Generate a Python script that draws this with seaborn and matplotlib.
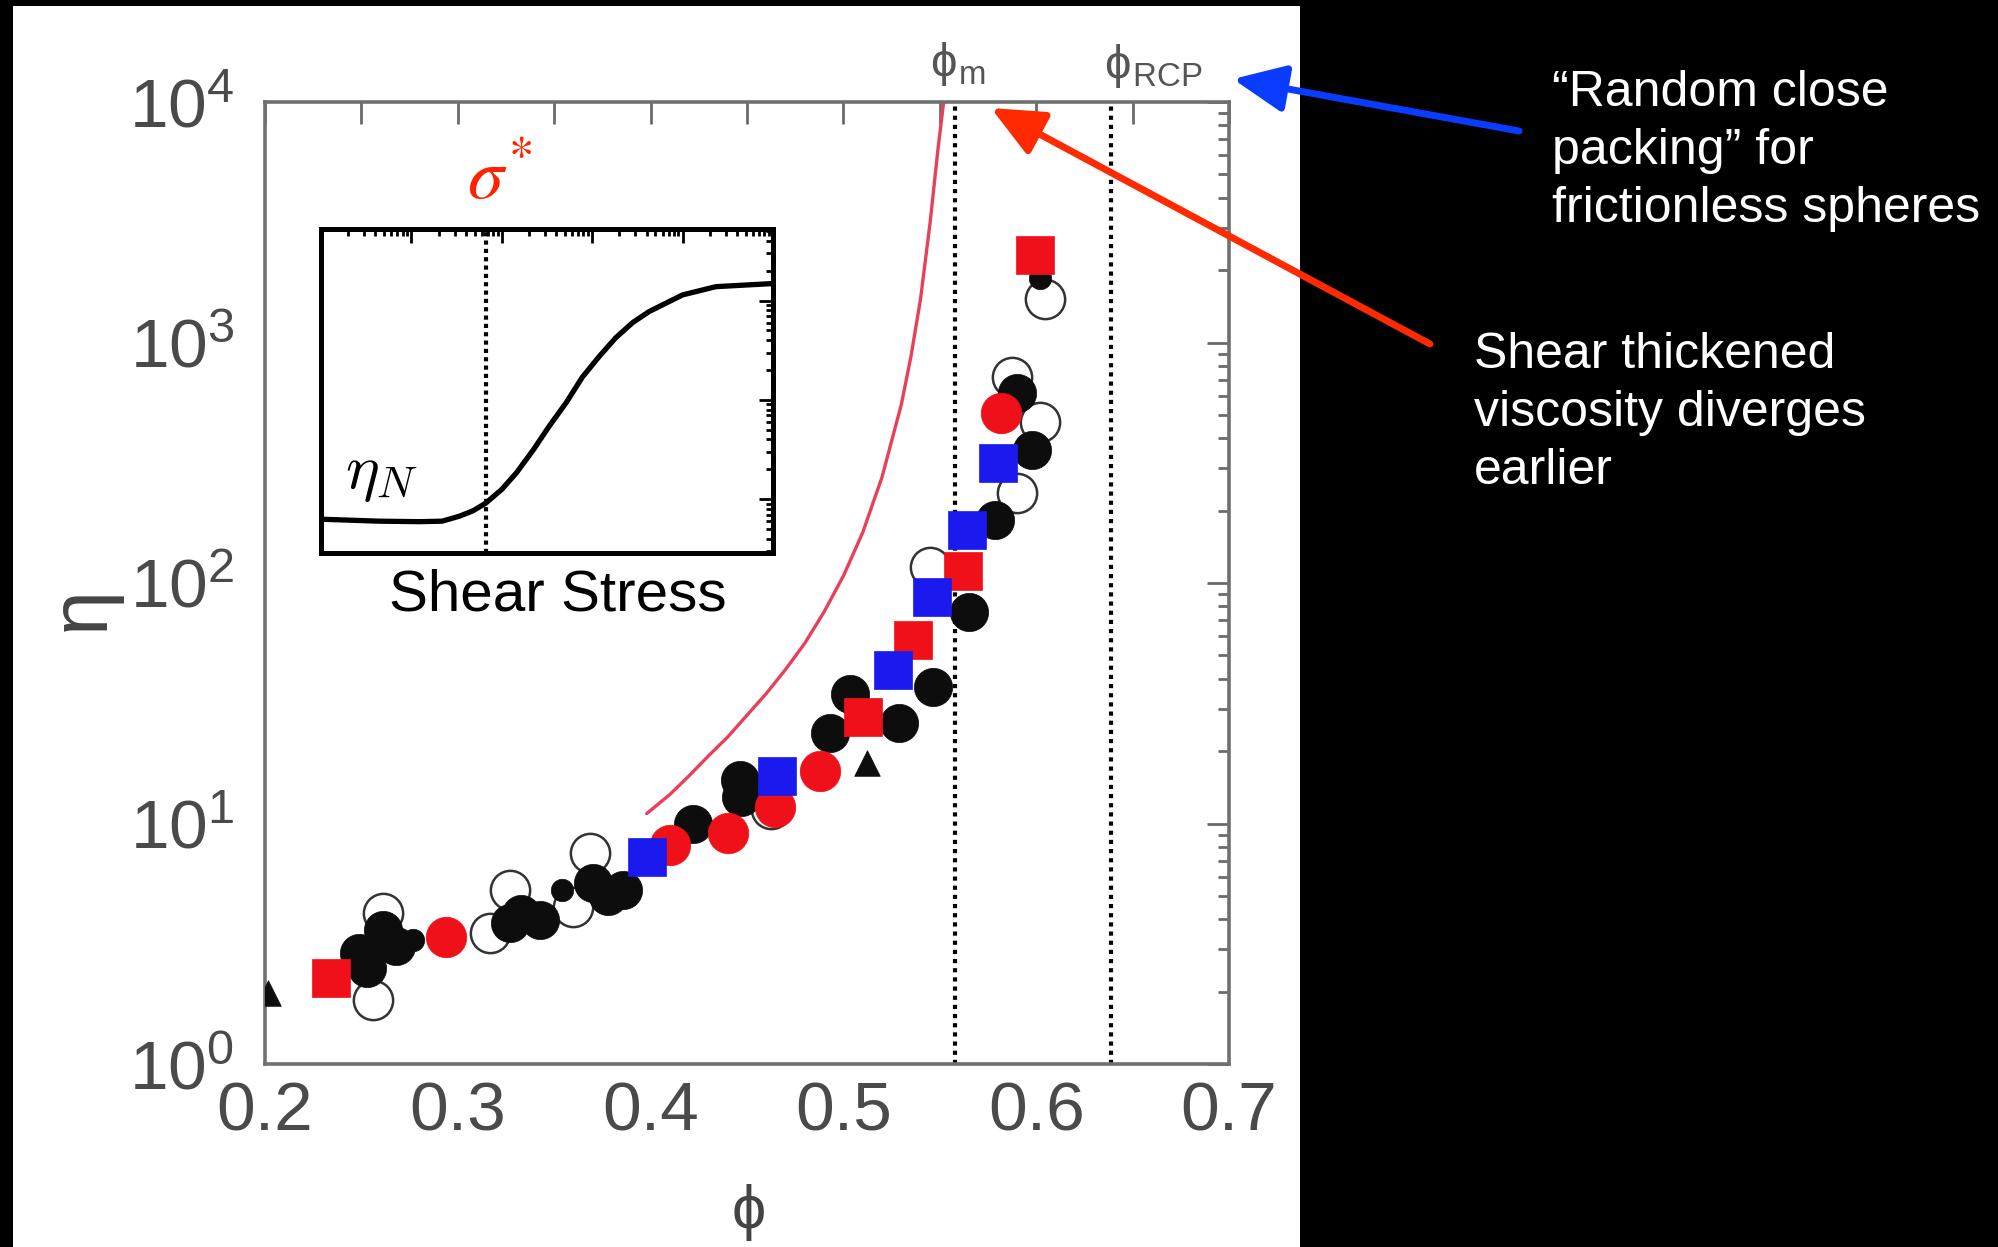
import numpy as np
import pandas as pd
import seaborn as sns
import matplotlib as mpl
from matplotlib import pyplot as plt
from matplotlib.patches import Rectangle, FancyArrowPatch
from matplotlib.ticker import MultipleLocator, LogLocator, NullFormatter

sns.set_theme(style='white')
plt.rcParams['font.family'] = ['Liberation Sans', 'DejaVu Sans']
plt.rcParams['mathtext.fontset'] = 'cm'

W, H = 1998, 1247

# viscosity eta vs volume fraction phi
red_circle_phi = [0.294, 0.410, 0.440, 0.4645, 0.488, 0.582]
red_circle_eta = [3.37, 8.13, 9.12, 11.7, 16.6, 509]
red_square_phi = [0.234, 0.510, 0.536, 0.562, 0.5994]
red_square_eta = [2.28, 27.7, 57.9, 112, 2312]
blue_square_phi = [0.398, 0.4656, 0.5257, 0.546, 0.564, 0.580]
blue_square_eta = [7.26, 15.8, 43.4, 87.1, 166, 316]
black_circle_phi = [0.249, 0.253, 0.261, 0.268, 0.327, 0.3426, 0.333, 0.370, 0.3857,
                    0.378, 0.422, 0.447, 0.4464, 0.493, 0.5034, 0.529, 0.5465, 0.565,
                    0.5786, 0.598, 0.590]
black_circle_eta = [2.89, 2.51, 3.6, 3.1, 3.85, 3.97, 4.2, 5.66, 5.28,
                    5.0, 10.0, 12.9, 15.1, 23.8, 34.7, 26.2, 37.0, 76.0,
                    183, 357, 617]
small_black_phi = [0.277, 0.354, 0.602]
small_black_eta = [3.27, 5.28, 1862]
triangle_phi = [0.2016, 0.512]
triangle_eta = [1.97, 17.8]
open_circle_phi = [0.256, 0.261, 0.3167, 0.327, 0.360, 0.3686, 0.4625, 0.545,
                   0.5875, 0.590, 0.602, 0.6046]
open_circle_eta = [1.85, 4.25, 3.51, 5.28, 4.50, 7.53, 11.5, 117,
                   719, 237, 468, 1514]

# red divergence curve
fit_phi = [0.398, 0.41, 0.42, 0.43, 0.44, 0.45, 0.46, 0.47, 0.48, 0.49, 0.50,
           0.51, 0.52, 0.53, 0.535, 0.54, 0.545, 0.549, 0.552]
fit_eta = [11.0, 13.2, 15.8, 19.1, 22.9, 28.2, 34.7, 43.7, 56.2, 75.9, 107,
           162, 275, 550, 871, 1514, 3162, 6310, 10000]

phi_m = 0.558
phi_rcp = 0.639

# inset: viscosity vs shear stress
stress = [1, 4.37, 12.2, 21.9, 33.9, 47.9, 66.1, 100, 145, 224, 331, 520, 776,
          1200, 1820, 2800, 4270, 10000, 23400, 95500]
inset_eta = [0.631, 0.603, 0.596, 0.603, 0.676, 0.766, 0.912, 1.26, 1.845, 3.16,
             5.37, 9.5, 16.9, 27.5, 42.2, 60.0, 77.6, 114, 138, 148]
sigma_star = 67.6


def px(x, y):
    return x / W, 1 - y / H


fig = plt.figure(figsize=(W / 100, H / 100), dpi=100, facecolor='black')
fig.patches.append(Rectangle(px(13, H), (1300 - 13) / W, (H - 6) / H,
                             transform=fig.transFigure, facecolor='white',
                             edgecolor='none', zorder=-5))

ax = fig.add_axes([265 / W, 1 - 1064 / H, (1229 - 265) / W, (1064 - 102) / H])
ax.set_facecolor('white')
ax.set_yscale('log')

ax.axvline(phi_m, color='black', lw=3.0, ls=(0, (1, 1.2)), zorder=1)
ax.axvline(phi_rcp, color='black', lw=3.0, ls=(0, (1, 1.2)), zorder=1)

fit_df = pd.DataFrame({'phi': fit_phi, 'eta': fit_eta})
sns.lineplot(data=fit_df, x='phi', y='eta', ax=ax, color='#e8405a', lw=2.4,
             sort=False, estimator=None, zorder=2)

groups = [
    (open_circle_phi, open_circle_eta, 'o', 'white', '#333333', 800, 1.8),
    (black_circle_phi, black_circle_eta, 'o', '#0d0d0d', '#0d0d0d', 760, 0.5),
    (small_black_phi, small_black_eta, 'o', '#0d0d0d', '#0d0d0d', 260, 0.5),
    (triangle_phi, triangle_eta, '^', '#0d0d0d', '#0d0d0d', 340, 0.5),
    (red_circle_phi, red_circle_eta, 'o', '#f0101a', '#f0101a', 850, 0.5),
    (red_square_phi, red_square_eta, 's', '#f0101a', '#f0101a', 760, 0.5),
    (blue_square_phi, blue_square_eta, 's', '#1a1aee', '#1a1aee', 760, 0.5),
]
for gx, gy, mk, fc, ec, size, elw in groups:
    sns.scatterplot(x=gx, y=gy, ax=ax, marker=mk, s=size, color=fc,
                    edgecolor=ec, linewidth=elw, zorder=3, legend=False)

ax.set_xlim(0.2, 0.7)
ax.set_ylim(1, 1e4)
ax.xaxis.set_major_locator(MultipleLocator(0.1))
ax.xaxis.set_minor_locator(MultipleLocator(0.05))
ax.yaxis.set_major_locator(LogLocator(base=10))
ax.yaxis.set_minor_locator(LogLocator(base=10, subs=np.arange(2, 10)))
ax.yaxis.set_minor_formatter(NullFormatter())
ax.tick_params(which='both', direction='in', top=True, right=True,
               color='#6a6a6a', width=2, labelcolor='#4a4a4a')
ax.tick_params(axis='x', which='both', length=16, labelsize=50, pad=12)
ax.tick_params(axis='y', which='major', length=16, labelsize=50, pad=22)
ax.tick_params(axis='y', which='minor', length=8)
for sp in ax.spines.values():
    sp.set_color('#707070')
    sp.set_linewidth(2.6)

ax.set_xlabel('ϕ', fontsize=44, color='#444444')
ax.xaxis.set_label_coords(0.502, -0.125)
ax.set_ylabel('η', fontsize=58, color='#444444')
ax.yaxis.set_label_coords(-0.15, 0.473)

ax.text(958 / W, 1 - 64 / H, 'ϕ$_{\\mathdefault{m}}$', transform=fig.transFigure,
        fontsize=34, color='#555555', ha='center', va='center')
ax.text(1153 / W, 1 - 66 / H, 'ϕ$_{\\mathdefault{RCP}}$', transform=fig.transFigure,
        fontsize=34, color='#555555', ha='center', va='center')

# white panel behind the inset
ax.add_patch(Rectangle(px(286, 636), (796 - 286) / W, (636 - 149) / H,
                       transform=fig.transFigure, facecolor='white',
                       edgecolor='none', zorder=10, clip_on=False))
ax.text(*px(558, 596), 'Shear Stress', transform=fig.transFigure, fontsize=42,
        color='black', ha='center', va='center', zorder=11)
ax.text(*px(500, 180), r'$\sigma^{\!*}$', transform=fig.transFigure, fontsize=52,
        color='#ff2200', ha='center', va='center', zorder=11,
        math_fontfamily='stix')

ins = fig.add_axes([321 / W, 1 - 553 / H, (773 - 321) / W, (553 - 229) / H])
ins.set_zorder(12)
ins.set_facecolor('white')
ins_df = pd.DataFrame({'stress': stress, 'eta': inset_eta})
sns.lineplot(data=ins_df, x='stress', y='eta', ax=ins, color='black', lw=3.8,
             sort=False, estimator=None)
ins.axvline(sigma_star, color='black', lw=3.0, ls=(0, (1, 1)))
ins.set_xscale('log')
ins.set_yscale('log')
ins.set_xlim(1, 1e5)
ins.set_ylim(10 ** -0.54, 10 ** 2.72)
ins.xaxis.set_major_locator(LogLocator(base=10))
ins.xaxis.set_minor_locator(LogLocator(base=10, subs=np.arange(2, 10)))
ins.yaxis.set_major_locator(LogLocator(base=10))
ins.yaxis.set_minor_locator(LogLocator(base=10, subs=np.arange(2, 10)))
ins.tick_params(which='both', direction='in', top=True, right=True,
                labelbottom=False, labelleft=False, color='black', width=2)
ins.tick_params(which='major', length=10)
ins.tick_params(which='minor', length=5)
ins.set_xlabel('')
ins.set_ylabel('')
for sp in ins.spines.values():
    sp.set_color('black')
    sp.set_linewidth(3.6)
ins.text(*px(382, 474), r'$\eta_N$', transform=fig.transFigure, fontsize=46,
         color='black', ha='center', va='center')

# annotations on the black side
fig.text(*px(1552, 70), '“Random close\npacking” for\nfrictionless spheres',
         fontsize=36, color='white', ha='left', va='top', linespacing=1.34)
fig.text(*px(1474, 332), 'Shear thickened\nviscosity diverges\nearlier',
         fontsize=36, color='white', ha='left', va='top', linespacing=1.34)

blue_arrow = FancyArrowPatch(px(1519, 131), px(1233, 79), transform=fig.transFigure,
                             arrowstyle='-|>,head_length=2.0,head_width=0.9',
                             mutation_scale=16, lw=5, color='#0a3cff',
                             shrinkA=0, shrinkB=0, zorder=20)
red_arrow = FancyArrowPatch(px(1430, 344), px(991, 108), transform=fig.transFigure,
                            arrowstyle='-|>,head_length=2.0,head_width=0.9',
                            mutation_scale=16, lw=5, color='#ff2a00',
                            shrinkA=0, shrinkB=0, zorder=20)
fig.patches.extend([blue_arrow, red_arrow])

fig.savefig('out.png', dpi=100, facecolor=fig.get_facecolor())
